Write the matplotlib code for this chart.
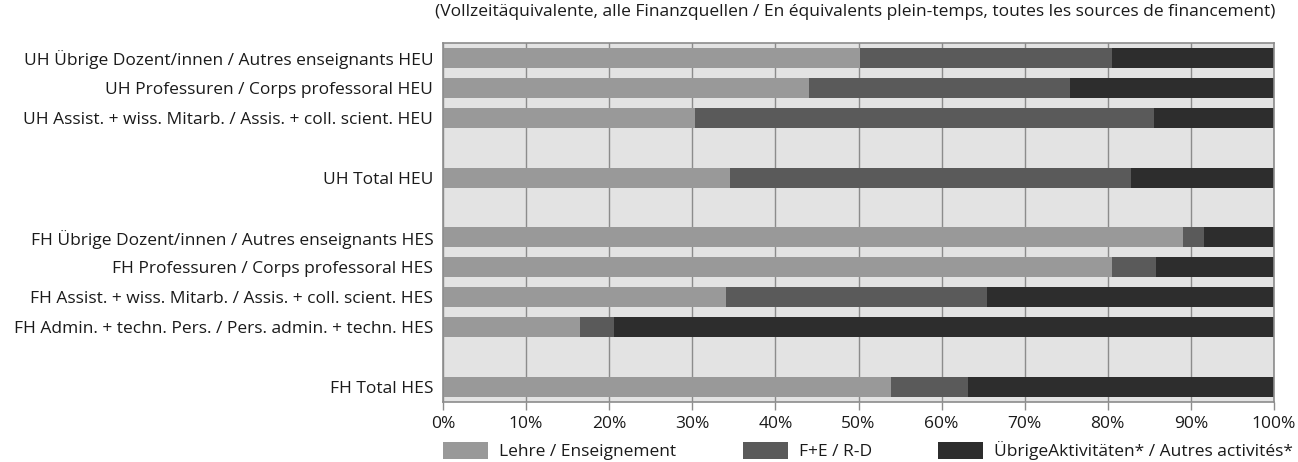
import matplotlib
matplotlib.use('Agg')
import matplotlib.pyplot as plt
from matplotlib.patches import Patch
import numpy as np

# Kategorien (None = Leerzeile)
kategorien = [
    'UH Übrige Dozent/innen / Autres enseignants HEU',
    'UH Professuren / Corps professoral HEU',
    'UH Assist. + wiss. Mitarb. / Assis. + coll. scient. HEU',
    None,
    'UH Total HEU',
    None,
    'FH Übrige Dozent/innen / Autres enseignants HES',
    'FH Professuren / Corps professoral HES',
    'FH Assist. + wiss. Mitarb. / Assis. + coll. scient. HES',
    'FH Admin. + techn. Pers. / Pers. admin. + techn. HES',
    None,
    'FH Total HES',
]

# Anteile in %
lehre = [50.2, 44.1, 30.3, 0, 34.5, 0, 89.1, 80.5, 34.0, 16.5, 0, 53.9]
fe = [30.3, 31.3, 55.3, 0, 48.3, 0, 2.5, 5.3, 31.5, 4.1, 0, 9.3]
uebrige = [19.5, 24.6, 14.4, 0, 17.2, 0, 8.4, 14.2, 34.5, 79.4, 0, 36.8]

serien = ['Lehre / Enseignement', 'F+E / R-D', 'ÜbrigeAktivitäten* / Autres activités*']
farben = ['#999999', '#5a5a5a', '#2d2d2d']
xticks = [0, 10, 20, 30, 40, 50, 60, 70, 80, 90, 100]

plt.rcParams['font.family'] = ['Open Sans', 'DejaVu Sans']
FS = 12.5
TXT = '#1a1a1a'
GRAU = '#8c8c8c'

fig = plt.figure(figsize=(12.98, 4.62), dpi=100)
ax = fig.add_axes([443 / 1298, 1 - 402 / 462, 831 / 1298, 359 / 462])
ax.set_facecolor('#e3e3e3')

y = np.arange(len(kategorien))
links = np.zeros(len(kategorien))
for werte, farbe, name in zip([lehre, fe, uebrige], farben, serien):
    ax.barh(y, werte, left=links, height=0.67, color=farbe, edgecolor='none',
            label=name, zorder=2)
    links += np.array(werte)

ax.set_xlim(0, 100)
ax.set_ylim(len(kategorien) - 0.5, -0.5)
ax.set_yticks([i for i, k in enumerate(kategorien) if k])
ax.set_yticklabels([k for k in kategorien if k], fontsize=FS, color=TXT)
ax.tick_params(axis='y', length=0, pad=7)

ax.set_xticks(xticks)
ax.set_xticklabels([f'{t}%' for t in xticks], fontsize=FS, color=TXT)
ax.tick_params(axis='x', length=6, width=1, color=GRAU, pad=4)
ax.grid(axis='x', color=GRAU, linewidth=1, zorder=1)
ax.set_axisbelow(True)

for s in ax.spines.values():
    s.set_color(GRAU)
    s.set_linewidth(1.2)

fig.text(855 / 1298, 1 - 12 / 462,
         '(Vollzeitäquivalente, alle Finanzquellen / En équivalents plein-temps, toutes les sources de financement)',
         ha='center', va='center', fontsize=FS, color=TXT)

# Legende: drei Einträge mit eigenem Abstand
leg_x = [443, 743, 938]
for xpos, farbe, name in zip(leg_x, farben, serien):
    lg = fig.legend(handles=[Patch(facecolor=farbe, edgecolor='none')], labels=[name],
                    loc='center left', bbox_to_anchor=(xpos / 1298, 1 - 451 / 462),
                    frameon=False, fontsize=FS, handlelength=2.6, handleheight=1.1,
                    handletextpad=0.6, borderpad=0, borderaxespad=0)
    for t in lg.get_texts():
        t.set_color(TXT)

fig.savefig('out.png', dpi=100, facecolor='white')
